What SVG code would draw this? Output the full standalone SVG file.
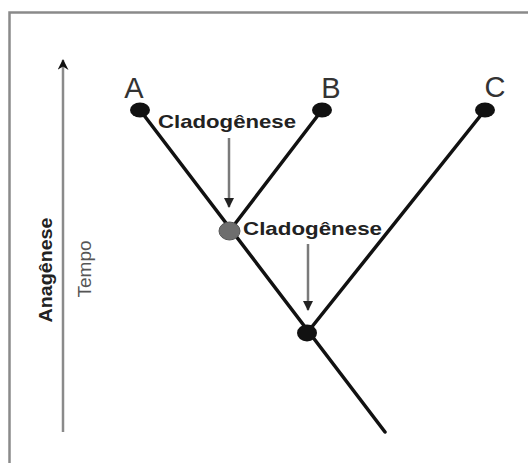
<svg xmlns="http://www.w3.org/2000/svg" width="528" height="463" viewBox="0 0 528 463">
  <defs>
    <marker id="head" viewBox="0 0 10 10" refX="9" refY="5" markerWidth="10" markerHeight="10" markerUnits="userSpaceOnUse" orient="auto">
      <path d="M0,0 L10,5 L0,10 Z" fill="#222"/>
    </marker>
    <marker id="head-big" viewBox="0 0 10 10" refX="9" refY="5" markerWidth="16" markerHeight="11" markerUnits="userSpaceOnUse" orient="auto">
      <path d="M0,0 L10,5 L0,10 L3,5 Z" fill="#111"/>
    </marker>
    <style>
      .frame { fill: none; stroke: #8a8a8a; stroke-width: 2.5; }
      .branch { stroke: #111; stroke-width: 3.5; stroke-linecap: round; fill: none; }
      .pointer { stroke: #7a7a7a; stroke-width: 2.5; fill: none; }
      .taxon { font-family: "Liberation Sans", Arial, sans-serif; font-size: 29px; fill: #333; text-anchor: middle; }
      .event { font-family: "Liberation Sans", Arial, sans-serif; font-size: 19px; font-weight: bold; fill: #222; }
      .dot { fill: #111; }
    </style>
  </defs>

  <rect width="528" height="463" fill="#fff"/>

  <!-- open frame: top and left edges only -->
  <path class="frame" d="M9.5,463 L9.5,12.5 L528,12.5"/>

  <!-- time axis -->
  <g id="time-axis">
    <line x1="63" y1="432" x2="63" y2="60" stroke="#8a8a8a" stroke-width="2.5" marker-end="url(#head-big)"/>
    <text transform="translate(52,270) rotate(-90)" class="event" text-anchor="middle" textLength="105" lengthAdjust="spacingAndGlyphs">Anagênese</text>
    <text transform="translate(91,269) rotate(-90)" font-family="Liberation Sans, Arial, sans-serif" font-size="19" fill="#555" text-anchor="middle">Tempo</text>
  </g>

  <!-- connectors: branches of the tree and event pointers -->
  <g id="connectors">
    <line class="branch" x1="140" y1="110" x2="385" y2="432"/>
    <line class="branch" x1="322" y1="110" x2="229.5" y2="231"/>
    <line class="branch" x1="485" y1="110" x2="307" y2="333"/>
    <line class="pointer" x1="229" y1="138" x2="229" y2="207" marker-end="url(#head)"/>
    <line class="pointer" x1="308" y1="244" x2="308" y2="310" marker-end="url(#head)"/>
  </g>

  <g id="taxon-A">
    <ellipse class="dot" cx="140" cy="110" rx="10" ry="7.5"/>
    <text class="taxon" x="134" y="98">A</text>
  </g>
  <g id="taxon-B">
    <ellipse class="dot" cx="322" cy="110" rx="10" ry="7.5"/>
    <text class="taxon" x="331" y="98">B</text>
  </g>
  <g id="taxon-C">
    <ellipse class="dot" cx="485" cy="110" rx="10" ry="7.5"/>
    <text class="taxon" x="495" y="97">C</text>
  </g>

  <g id="node-AB">
    <ellipse cx="229.5" cy="231" rx="10.5" ry="9" fill="#6e6e6e" stroke="#555" stroke-width="1"/>
  </g>
  <g id="node-ABC">
    <ellipse class="dot" cx="307" cy="333" rx="10" ry="8.5"/>
  </g>

  <g id="label-cladogenesis-1">
    <text class="event" x="158" y="128" textLength="138" lengthAdjust="spacingAndGlyphs">Cladogênese</text>
  </g>
  <g id="label-cladogenesis-2">
    <text class="event" x="243" y="235" textLength="139" lengthAdjust="spacingAndGlyphs">Cladogênese</text>
  </g>
</svg>
